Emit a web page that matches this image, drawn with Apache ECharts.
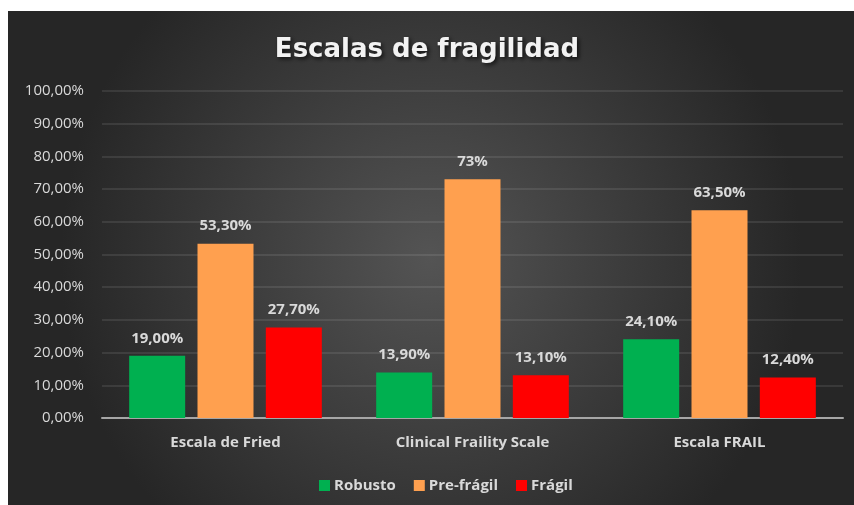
<!DOCTYPE html>
<html><head><meta charset="utf-8">
<script src="https://cdn.jsdelivr.net/npm/echarts@6/dist/echarts.min.js"></script>
<style>html,body{margin:0;padding:0;background:#fff}#c{width:854px;height:505px}</style>
</head><body><div id="c"></div>
<script>
const categories = ['Escala de Fried', 'Clinical Fraility Scale', 'Escala FRAIL'];
const robusto = [19.0, 13.9, 24.1];
const preFragil = [53.3, 73, 63.5];
const fragil = [27.7, 13.1, 12.4];
const robustoLabels = ['19,00%', '13,90%', '24,10%'];
const preFragilLabels = ['53,30%', '73%', '63,50%'];
const fragilLabels = ['27,70%', '13,10%', '12,40%'];
const seriesNames = ['Robusto', 'Pre-frágil', 'Frágil'];
const yTicks = [0,10,20,30,40,50,60,70,80,90,100];

const txt = '#d9d9d9';
function mk(name, data, labels, color) {
  return {
    name, type: 'bar', data, barWidth: 56, barGap: '22%',
    itemStyle: { color },
    label: { show: true, position: 'top', distance: 10, color: txt, fontFamily: 'Open Sans', fontWeight: 'bold', fontSize: 15,
      formatter: p => labels[p.dataIndex] }
  };
}
const chart = echarts.init(document.getElementById('c'), null, { renderer: 'canvas' });
chart.setOption({
  animation: false,
  backgroundColor: '#ffffff',
  graphic: [{
    type: 'rect', left: 8, top: 11, z: -10, silent: true,
    shape: { width: 846, height: 494 },
    style: { fill: new echarts.graphic.RadialGradient(0.5, 0.5, 0.75, [
      { offset: 0, color: '#545454' }, { offset: 1, color: '#262626' }]) }
  }],
  title: {
    text: 'Escalas de fragilidad', left: 'center', top: 32,
    textStyle: { fontFamily: 'DejaVu Sans', fontWeight: 'bold', fontSize: 26, color: '#f2f2f2',
      textShadowColor: 'rgba(0,0,0,0.7)', textShadowBlur: 4, textShadowOffsetX: 2, textShadowOffsetY: 2 }
  },
  legend: {
    top: 473, left: 314, itemWidth: 11, itemHeight: 11, itemGap: 18, icon: 'rect',
    data: seriesNames,
    textStyle: { color: txt, fontFamily: 'Open Sans', fontWeight: 'bold', fontSize: 15, padding: [0,0,0,-1] }
  },
  grid: { left: 102, right: 11, top: 91, bottom: 87 },
  xAxis: {
    type: 'category', data: categories,
    axisLine: { lineStyle: { color: '#a6a6a6', width: 2 } },
    axisTick: { show: false },
    axisLabel: { color: txt, fontFamily: 'Open Sans', fontWeight: 'bold', fontSize: 15, margin: 17 }
  },
  yAxis: {
    type: 'value', min: 0, max: 100, interval: 10,
    axisLine: { show: false }, axisTick: { show: false },
    splitLine: { lineStyle: { color: 'rgba(255,255,255,0.12)', width: 1.5 } },
    axisLabel: { color: txt, fontFamily: 'Open Sans', fontSize: 15, margin: 18,
      formatter: v => yTicks.includes(v) ? v + ',00%' : '' }
  },
  series: [
    mk(seriesNames[0], robusto, robustoLabels, '#00B050'),
    mk(seriesNames[1], preFragil, preFragilLabels, '#FFA04F'),
    mk(seriesNames[2], fragil, fragilLabels, '#FF0000')
  ]
});
</script></body></html>
